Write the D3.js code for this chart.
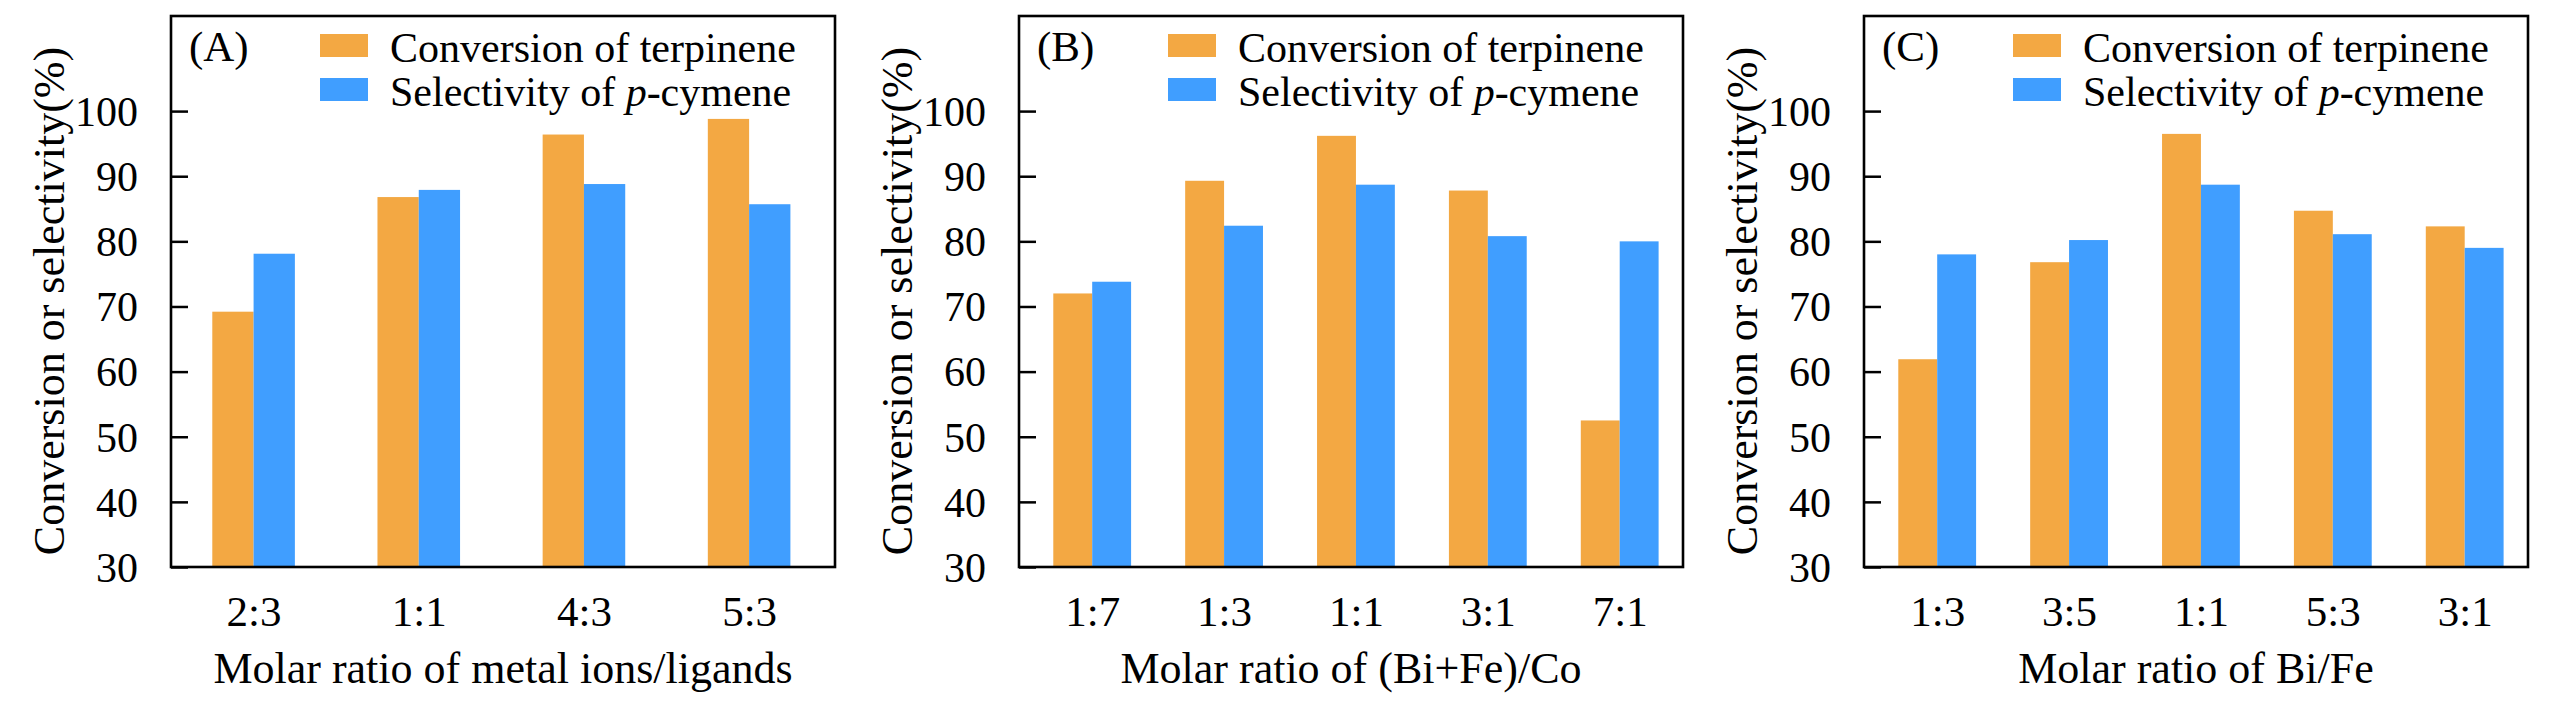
<!DOCTYPE html>
<html>
<head>
<meta charset="utf-8">
<script src="https://cdn.jsdelivr.net/npm/d3@7"></script>
<style>
  body { margin: 0; background: #fff; }
  svg { display: block; font-family: "Liberation Serif", "Times New Roman", serif; }
  svg text { font-family: "Liberation Serif", "Times New Roman", serif !important; fill: #000; }
</style>
</head>
<body>
<svg id="chart" width="2567" height="709"></svg>
<script>
// Panel (A): metal ions / ligands
var catsA = ["2:3", "1:1", "4:3", "5:3"];
var convA = [69.2, 86.8, 96.4, 98.8];
var selA  = [78.1, 87.9, 88.8, 85.7];

// Panel (B): (Bi+Fe)/Co
var catsB = ["1:7", "1:3", "1:1", "3:1", "7:1"];
var convB = [72.0, 89.3, 96.2, 87.8, 52.5];
var selB  = [73.8, 82.4, 88.7, 80.8, 80.0];

// Panel (C): Bi/Fe
var catsC = ["1:3", "3:5", "1:1", "5:3", "3:1"];
var convC = [61.9, 76.8, 96.5, 84.7, 82.3];
var selC  = [78.0, 80.2, 88.7, 81.1, 79.0];

var yTicks = [30, 40, 50, 60, 70, 80, 90, 100];
var seriesNames = ["Conversion of terpinene", "Selectivity of "];
var colors = ["#F3A843", "#409EFF"];
var serif = '"Liberation Serif", "Times New Roman", serif';

var svg = d3.select("#chart");

var plotTop = 16, plotBottom = 567, plotW = 664;

function drawPanel(opt) {
    var g = svg.append("g").attr("transform", "translate(" + opt.left + ",0)");

    var x = d3.scaleLinear().domain(opt.xDomain).range([0, plotW]);
    var y = d3.scaleLinear().domain([30, 114.6]).range([plotBottom, plotTop]);
    var step = x(1) - x(0);
    var bw = step * opt.barFrac;

    // bars
    var rows = opt.cats.map(function(c, i) {
        return {i: i, conv: opt.conv[i], sel: opt.sel[i]};
    });
    g.selectAll(".conv").data(rows).enter().append("rect")
        .attr("x", d => x(d.i) - bw)
        .attr("width", bw)
        .attr("y", d => y(d.conv))
        .attr("height", d => y(30) - y(d.conv))
        .attr("fill", colors[0]);
    g.selectAll(".sel").data(rows).enter().append("rect")
        .attr("x", d => x(d.i))
        .attr("width", bw)
        .attr("y", d => y(d.sel))
        .attr("height", d => y(30) - y(d.sel))
        .attr("fill", colors[1]);

    // y axis, ticks inward
    var yAxis = d3.axisLeft(y).tickValues(yTicks).tickSize(-17).tickPadding(33);
    var ya = g.append("g").call(yAxis).attr("font-family", null);
    ya.select(".domain").remove();
    ya.selectAll("line").attr("stroke", "#000").attr("stroke-width", 2.5);
    ya.selectAll("text").style("font-family", serif).attr("font-size", 42)
        .attr("dy", "0.34em");

    // x axis labels
    var xAxis = d3.axisBottom(x).tickValues(d3.range(opt.cats.length))
        .tickFormat(i => opt.cats[i]).tickSize(0).tickPadding(28);
    var xa = g.append("g").attr("transform", "translate(0," + plotBottom + ")")
        .call(xAxis).attr("font-family", null);
    xa.select(".domain").remove();
    xa.selectAll("text").style("font-family", serif).attr("font-size", 43)
        .attr("dy", "0.71em");

    // frame
    g.append("rect")
        .attr("x", 0).attr("y", plotTop)
        .attr("width", plotW).attr("height", plotBottom - plotTop)
        .attr("fill", "none").attr("stroke", "#000").attr("stroke-width", 2.6);

    // panel letter
    g.append("text").attr("x", 18).attr("y", 61)
        .attr("font-size", 43).text(opt.letter);

    // legend
    var lx = plotW - 515;
    seriesNames.forEach(function(name, k) {
        var yy = 34 + k * 44;
        g.append("rect").attr("x", lx).attr("y", yy)
            .attr("width", 48).attr("height", 23).attr("fill", colors[k]);
        var t = g.append("text").attr("x", lx + 70).attr("y", yy + 28)
            .attr("font-size", 42).text(name);
        if (k == 1) {
            t.append("tspan").attr("font-style", "italic").text("p");
            t.append("tspan").text("-cymene");
        }
    });

    // axis titles
    g.append("text")
        .attr("transform", "translate(-107,301) rotate(-90)")
        .attr("text-anchor", "middle")
        .attr("font-size", 44)
        .style("font-family", serif)
        .text("Conversion or selectivity(%)");

    g.append("text")
        .attr("x", plotW / 2).attr("y", 683)
        .attr("text-anchor", "middle")
        .attr("font-size", 44)
        .text(opt.xTitle);
}

drawPanel({left: 171, letter: "(A)", cats: catsA, conv: convA, sel: selA,
    xDomain: [-0.5, 3.52], barFrac: 0.25, xTitle: "Molar ratio of metal ions/ligands"});
drawPanel({left: 1019, letter: "(B)", cats: catsB, conv: convB, sel: selB,
    xDomain: [-0.555, 4.48], barFrac: 0.295, xTitle: "Molar ratio of (Bi+Fe)/Co"});
drawPanel({left: 1864, letter: "(C)", cats: catsC, conv: convC, sel: selC,
    xDomain: [-0.555, 4.48], barFrac: 0.295, xTitle: "Molar ratio of Bi/Fe"});
</script>
</body>
</html>
